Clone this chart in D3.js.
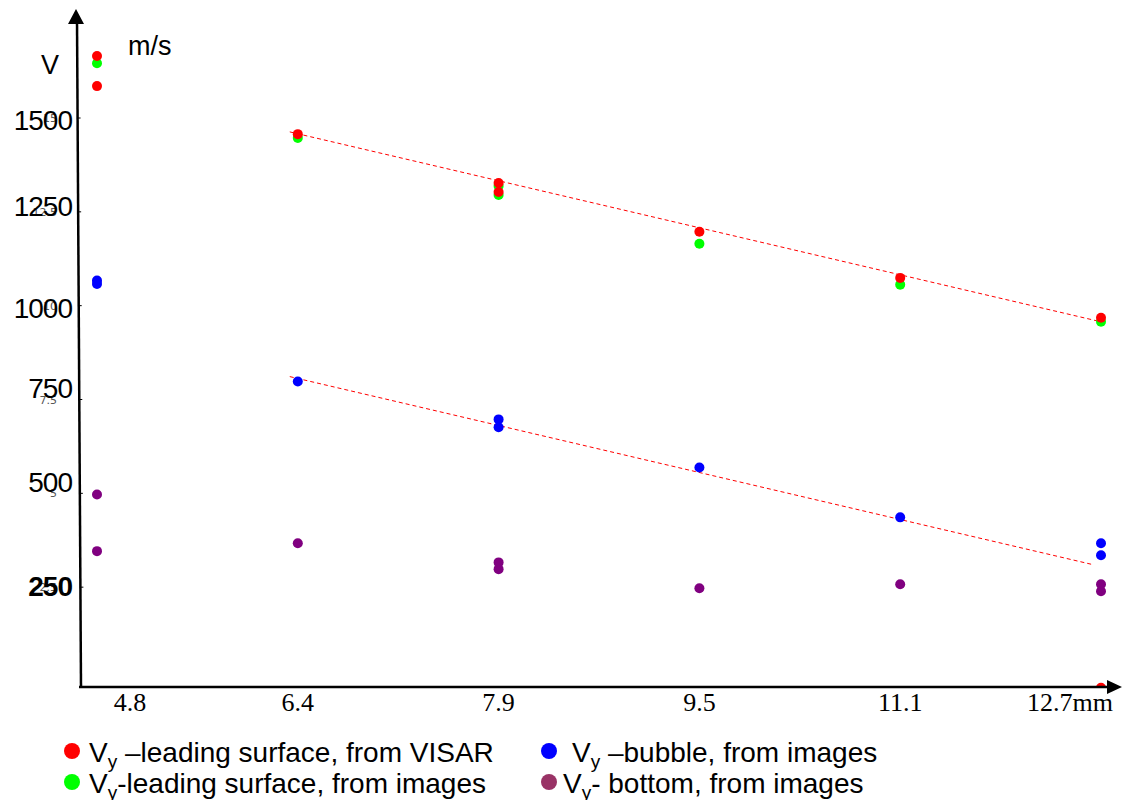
<!DOCTYPE html>
<html>
<head>
<meta charset="utf-8">
<script src="https://cdn.jsdelivr.net/npm/d3@7"></script>
<style>
  body { margin: 0; background: #fff; }
  svg { display: block; }
</style>
</head>
<body>
<div id="viz"></div>
<script>
"use strict";

// categories on the x axis (mm)
var xCats = ["4.8", "6.4", "7.9", "9.5", "11.1", "12.7"];
var yTicks = [250, 500, 750, 1000, 1250, 1500];
var yGhostLabels = ["2.5", "5", "7.5", "10", "12.5", "15"];

// [category, m/s]
var visarLead = [["4.8", 1665], ["4.8", 1585], ["6.4", 1457], ["7.9", 1327], ["7.9", 1303],
	["9.5", 1197], ["11.1", 1074], ["12.7", 968], ["12.7", -18]];
var imageLead = [["4.8", 1646], ["6.4", 1447], ["7.9", 1319], ["7.9", 1295],
	["9.5", 1165], ["11.1", 1056], ["12.7", 957]];
var bubble = [["4.8", 1067], ["4.8", 1058], ["6.4", 798], ["7.9", 697], ["7.9", 676],
	["9.5", 569], ["11.1", 436], ["12.7", 367], ["12.7", 335]];
var bottom = [["4.8", 497], ["4.8", 346], ["6.4", 367], ["7.9", 316], ["7.9", 298],
	["9.5", 247], ["11.1", 258], ["12.7", 258], ["12.7", 239]];

// dashed fits, [category index, m/s]
var fitLead = [[0.96, 1463], [5, 957]];
var fitBubble = [[0.96, 811], [4.96, 310]];

var legendItems = [
	{ pre: "V", sub: "y", post: " \u2013leading surface, from VISAR", color: "#ff0000" },
	{ pre: "V", sub: "y", post: "-leading surface, from images", color: "#00ff00" },
	{ pre: "V", sub: "y", post: " \u2013bubble, from images", color: "#0000ff" },
	{ pre: "V", sub: "y", post: "- bottom, from images", color: "#993366" }
];

var width = 1122, height = 800;

var svg = d3.select("#viz").append("svg")
	.attr("width", width)
	.attr("height", height);

var x = d3.scalePoint().domain(xCats).range([97, 1101]);
var xi = d3.scaleLinear().domain([0, xCats.length - 1]).range(x.range());
var y = d3.scaleLinear().domain([0, 1500]).range([681, 118]);

svg.append("clipPath").attr("id", "plot-clip")
	.append("rect")
	.attr("x", 0).attr("y", 0)
	.attr("width", width).attr("height", 686);

var lineFunction = d3.line()
	.x(function(d) { return xi(d[0]) })
	.y(function(d) { return y(d[1]) });

// dashed fits
[fitLead, fitBubble].forEach(function(fit) {
	svg.append("path")
		.attr("d", lineFunction(fit))
		.attr("fill", "none")
		.attr("stroke", "#ff0000")
		.attr("stroke-width", 1)
		.attr("stroke-dasharray", "4,3");
});

// points, drawn so that red sits over green
var pointGroup = svg.append("g").attr("clip-path", "url(#plot-clip)");
var drawPoints = function(data, color) {
	pointGroup.append("g").selectAll("circle")
		.data(data)
		.enter()
		.append("circle")
		.attr("cx", function(d) { return x(d[0]) })
		.attr("cy", function(d) { return y(d[1]) })
		.attr("r", 5)
		.attr("fill", color);
};
drawPoints(bottom, "#800080");
drawPoints(bubble, "#0000ff");
drawPoints(imageLead, "#00ff00");
drawPoints(visarLead, "#ff0000");

// y axis (slightly leaning, as in the source)
svg.append("line")
	.attr("x1", 81).attr("y1", 687)
	.attr("x2", 77).attr("y2", 20)
	.attr("stroke", "#000").attr("stroke-width", 2.5);
svg.append("path")
	.attr("d", "M76,9 L68,24 L84,24 Z")
	.attr("fill", "#000");

// x axis
svg.append("line")
	.attr("x1", 79).attr("y1", 687)
	.attr("x2", 1110).attr("y2", 687)
	.attr("stroke", "#000").attr("stroke-width", 2.5);
svg.append("path")
	.attr("d", "M1122,687 L1107,680 L1107,694 Z")
	.attr("fill", "#000");

// y ticks and labels; the big labels sit a little off their ticks in the source
var labelNudge = [9, -1, -2, 12, 4, 12];
var yTickG = svg.append("g");
yTicks.forEach(function(t, i) {
	var yy = y(t);
	var ax = 81 - (687 - yy) * 4 / 667;
	yTickG.append("line")
		.attr("x1", ax).attr("x2", ax + 3)
		.attr("y1", yy).attr("y2", yy)
		.attr("stroke", "#000").attr("stroke-width", 1);
	yTickG.append("text")
		.attr("x", 57).attr("y", yy + 4)
		.attr("text-anchor", "end")
		.attr("font-family", "DejaVu Sans, sans-serif")
		.attr("font-size", "11px")
		.attr("fill", "#555")
		.text(yGhostLabels[i]);
	yTickG.append("text")
		.attr("x", 72).attr("y", yy + labelNudge[i])
		.attr("text-anchor", "end")
		.attr("font-family", "Liberation Sans, Arial, sans-serif")
		.attr("font-size", "28px")
		.attr("letter-spacing", "-1px")
		.attr("font-weight", t === 250 ? "bold" : "normal")
		.attr("fill", "#000")
		.text(t);
});

// x labels
svg.append("g").selectAll("text")
	.data(xCats)
	.enter()
	.append("text")
	.attr("x", function(d, i) { return x(d) + (i === 0 ? 33 : 0) })
	.attr("y", 711)
	.attr("text-anchor", function(d, i) { return i === xCats.length - 1 ? "end" : "middle" })
	.attr("dx", function(d, i) { return i === xCats.length - 1 ? 12 : 0 })
	.attr("font-family", "Liberation Serif, Times New Roman, serif")
	.attr("font-size", "26px")
	.attr("fill", "#000")
	.text(function(d, i) { return i === xCats.length - 1 ? d + "mm" : d });

// axis titles
svg.append("text")
	.attr("x", 50).attr("y", 74)
	.attr("text-anchor", "middle")
	.attr("font-family", "Liberation Sans, Arial, sans-serif")
	.attr("font-size", "27px")
	.text("V");
svg.append("text")
	.attr("x", 128).attr("y", 55)
	.attr("font-family", "Liberation Sans, Arial, sans-serif")
	.attr("font-size", "27px")
	.text("m/s");

// legend
var legend = svg.append("g");
legendItems.forEach(function(item, i) {
	var col = Math.floor(i / 2), row = i % 2;
	var lx = col === 0 ? 72 : 549;
	var ly = 751 + row * 31;
	legend.append("circle")
		.attr("cx", lx).attr("cy", ly)
		.attr("r", 8)
		.attr("fill", item.color);
	var t = legend.append("text")
		.attr("x", lx + (col === 0 ? 17 : (row === 0 ? 23 : 14)))
		.attr("y", ly + 11)
		.attr("font-family", "Liberation Sans, Arial, sans-serif")
		.attr("font-size", "28px")
		.attr("fill", "#000");
	t.append("tspan").text(item.pre);
	t.append("tspan").attr("font-size", "19px").attr("dy", 6).text(item.sub);
	t.append("tspan").attr("dy", -6).text(item.post);
});
</script>
</body>
</html>
